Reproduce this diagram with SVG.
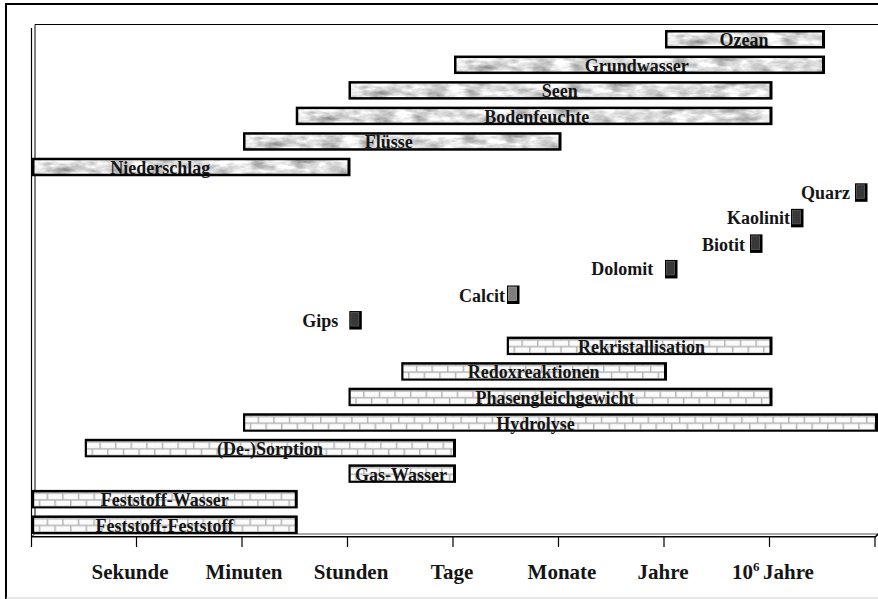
<svg xmlns="http://www.w3.org/2000/svg" width="878" height="599" viewBox="0 0 878 599">
<style>
.edge{fill:#000}
.marble{fill:#e0e0e0;filter:url(#marble)}
.brick{fill:url(#brick)}
.blk{fill:#000}
.face{fill:#383838;stroke:#5e5e5e;stroke-width:0.8}
.face2{fill:#7e7e7e;stroke:#a0a0a0;stroke-width:0.8}
text{font-family:"Liberation Serif","Times New Roman",serif;font-weight:bold;fill:#151515}
.lbl{font-size:18px;text-anchor:middle}
.min{font-size:18px;text-anchor:end}
.ax{font-size:21px;text-anchor:middle}
.ln{stroke:#000;fill:none}
</style>
<defs>
<filter id="marble" x="0" y="0" width="1" height="1" color-interpolation-filters="sRGB">
<feTurbulence type="fractalNoise" baseFrequency="0.05 0.13" numOctaves="4" seed="5" result="t"/>
<feColorMatrix in="t" type="matrix" values="0.6 0.4 0 0 0  0.6 0.4 0 0 0  0.6 0.4 0 0 0  0 0 0 0 1" result="g"/>
<feComponentTransfer in="g" result="c">
<feFuncR type="linear" slope="0.95" intercept="0.39"/>
<feFuncG type="linear" slope="0.95" intercept="0.39"/>
<feFuncB type="linear" slope="0.95" intercept="0.39"/>
</feComponentTransfer>
<feComposite in="c" in2="SourceGraphic" operator="in"/>
</filter>
<pattern id="brick" patternUnits="userSpaceOnUse" x="0" y="3.3" width="15.6" height="13.4">
<rect width="15.6" height="13.4" fill="#fbfbfb"/>
<path d="M0 0H15.6M0 6.7H15.6M0 13.4H15.6M0.7 0V6.7M8.5 6.7V13.4" stroke="#b4b4b4" stroke-width="1.5" fill="none"/>
</pattern>
</defs>

<rect width="878" height="599" fill="#fff"/>
<g id="frame">
<path class="ln" stroke-width="2" d="M6 599V4H878"/>
<path d="M6 598H878" stroke="#d0d0d0" stroke-width="1"/>
</g>

<g id="axis">
<path class="ln" stroke-width="1" d="M35 533.5V24.5H878"/>
<path class="ln" stroke-width="1.2" d="M31.5 28V537"/>
<path d="M35 534H878" stroke="#555" stroke-width="1"/>
<path class="ln" stroke-width="1.5" d="M31 536.8H875.5L878 534"/>
<path class="ln" stroke-width="1" d="M31.5 537L35 533.5"/>
<path class="ln" stroke-width="1.2" d="M31.5 537V547M136.5 537V547M242 537V547M347.5 537V547M453 537V547M558.5 537V547M664 537V547M769.5 537V547M875 537V547"/>
<text class="ax" x="130" y="579">Sekunde</text>
<text class="ax" x="244" y="579">Minuten</text>
<text class="ax" x="351" y="579">Stunden</text>
<text class="ax" x="452" y="579">Tage</text>
<text class="ax" x="562" y="579">Monate</text>
<text class="ax" x="663" y="579">Jahre</text>
<text x="732" y="579" style="font-size:21px">10<tspan style="font-size:13px" dy="-8">6</tspan><tspan x="763" dy="8">Jahre</tspan></text>
</g>

<g id="ozean" transform="translate(664,30)">
<rect class="edge" x="1" y="0" width="160" height="18.5"/><rect class="marble" x="3.5" y="2.5" width="154.5" height="13.5"/>
<text class="lbl" x="80" y="16.3">Ozean</text></g>
<g id="grundwasser" transform="translate(453,55.55)">
<rect class="edge" x="1" y="0" width="371" height="18.5"/><rect class="marble" x="3.5" y="2.5" width="365.5" height="13.5"/>
<text class="lbl" x="183.7" y="16.3">Grundwasser</text></g>
<g id="seen" transform="translate(347.5,81.1)">
<rect class="edge" x="1" y="0" width="424" height="18.5"/><rect class="marble" x="3.5" y="2.5" width="418.5" height="13.5"/>
<text class="lbl" x="212.2" y="16.3">Seen</text></g>
<g id="bodenfeuchte" transform="translate(294.75,106.65)">
<rect class="edge" x="1" y="0" width="476.75" height="18.5"/><rect class="marble" x="3.5" y="2.5" width="471.25" height="13.5"/>
<text class="lbl" x="242" y="16.3">Bodenfeuchte</text></g>
<g id="fluesse" transform="translate(242,132.2)">
<rect class="edge" x="1" y="0" width="318.5" height="18.5"/><rect class="marble" x="3.5" y="2.5" width="313" height="13.5"/>
<text class="lbl" x="146.7" y="16.3">Flüsse</text></g>
<g id="niederschlag" transform="translate(31,157.75)">
<rect class="edge" x="1" y="0" width="318.5" height="18.5"/><rect class="marble" x="3.5" y="2.5" width="313" height="13.5"/>
<text class="lbl" x="129.3" y="16.3">Niederschlag</text></g>

<g id="quarz" transform="translate(855,183.3)">
<rect class="blk" width="12.5" height="18.5"/><rect class="face" x="1.5" y="1.5" width="8" height="13.5"/>
<text class="min" x="-5" y="15.5">Quarz</text></g>
<g id="kaolinit" transform="translate(791,208.85)">
<rect class="blk" width="12.5" height="18.5"/><rect class="face" x="1.5" y="1.5" width="8" height="13.5"/>
<text class="min" x="-1" y="15.5">Kaolinit</text></g>
<g id="biotit" transform="translate(750,234.4)">
<rect class="blk" width="12.5" height="18.5"/><rect class="face" x="1.5" y="1.5" width="8" height="13.5"/>
<text class="min" x="-5" y="17">Biotit</text></g>
<g id="dolomit" transform="translate(665,259.95)">
<rect class="blk" width="12.5" height="18.5"/><rect class="face" x="1.5" y="1.5" width="8" height="13.5"/>
<text class="min" x="-11.7" y="15.5">Dolomit</text></g>
<g id="calcit" transform="translate(507,285.5)">
<rect class="blk" width="12.5" height="18.5"/><rect class="face2" x="1.5" y="1.5" width="8" height="13.5"/>
<text class="min" x="-2" y="16">Calcit</text></g>
<g id="gips" transform="translate(349.3,311.05)">
<rect class="blk" width="12.5" height="18.5"/><rect class="face" x="1.5" y="1.5" width="8" height="13.5"/>
<text class="min" x="-11" y="15.8">Gips</text></g>

<g id="rekristallisation" transform="translate(505.75,336.6)">
<rect class="edge" x="1" y="0" width="265.75" height="18.5"/><rect class="brick" x="3.2" y="2.5" width="260.55" height="14"/>
<text class="lbl" x="135.85" y="16.3">Rekristallisation</text></g>
<g id="redoxreaktionen" transform="translate(400.25,362.15)">
<rect class="edge" x="1" y="0" width="265.75" height="18.5"/><rect class="brick" x="3.2" y="2.5" width="260.55" height="14"/>
<text class="lbl" x="133.35" y="16.3">Redoxreaktionen</text></g>
<g id="phasengleichgewicht" transform="translate(347.5,387.7)">
<rect class="edge" x="1" y="0" width="424" height="18.5"/><rect class="brick" x="3.2" y="2.5" width="418.8" height="14"/>
<text class="lbl" x="207.5" y="16.3">Phasengleichgewicht</text></g>
<g id="hydrolyse" transform="translate(242,413.25)">
<rect class="edge" x="1" y="0" width="635" height="18.5"/><rect class="brick" x="3.2" y="2.5" width="629.8" height="14"/>
<text class="lbl" x="293.5" y="16.3">Hydrolyse</text></g>
<g id="desorption" transform="translate(83.75,438.8)">
<rect class="edge" x="1" y="0" width="371.25" height="18.5"/><rect class="brick" x="3.2" y="2.5" width="366.05" height="14"/>
<text class="lbl" x="186.25" y="16.3">(De-)Sorption</text></g>
<g id="gas-wasser" transform="translate(347.5,464.35)">
<rect class="edge" x="1" y="0" width="107.5" height="18.5"/><rect class="brick" x="3.2" y="2.5" width="102.3" height="14"/>
<text class="lbl" x="53.5" y="16.3">Gas-Wasser</text></g>
<g id="feststoff-wasser" transform="translate(31,489.9)">
<rect class="edge" x="1" y="0" width="265.75" height="18.5"/><rect class="brick" x="3.2" y="2.5" width="260.55" height="14"/>
<text class="lbl" x="133.7" y="16.3">Feststoff-Wasser</text></g>
<g id="feststoff-feststoff" transform="translate(31,515.45)">
<rect class="edge" x="1" y="0" width="265.75" height="18.5"/><rect class="brick" x="3.2" y="2.5" width="260.55" height="14"/>
<text class="lbl" x="133.5" y="16.3">Feststoff-Feststoff</text></g>
</svg>
